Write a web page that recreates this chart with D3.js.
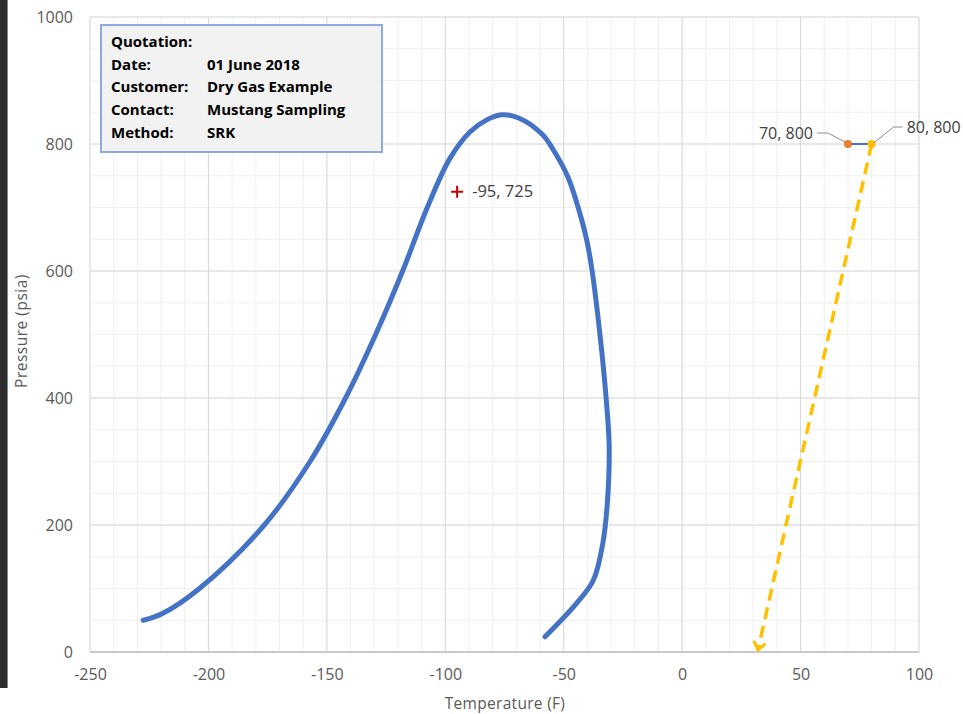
<!DOCTYPE html>
<html><head><meta charset="utf-8">
<script src="https://cdn.jsdelivr.net/npm/d3@7"></script>
<style>
html,body{margin:0;padding:0;background:#fff;}
svg{display:block;}
</style></head>
<body>
<svg id="chart" width="963" height="714"></svg>
<script>
// ---- Data ----
const envelopeT = [-227.5,-219.2,-203.8,-176.4,-157.1,-142.1,-129.4,-118,-107.6,-98.1,-89.6,-82.5,-76.2,-69,-59,-54.4,-48.1,-43.5,-40.3,-38,-34.7,-32.1,-30.8,-31.6,-33.5,-37.5,-44.5,-57.9];
const envelopeP = [50,61,100,200,300,400,500,600,700,777,819,838,846,841,815,791,747,695,649,600,500,400,323,234,171,113,77,24];
const segT = [70, 80];
const segP = [800, 800];
const arrowT = [80, 32];
const arrowP = [800, 3];
const crossPoint = {t: -95, p: 725, label: "-95, 725"};
const pointLabels = ["70, 800", "80, 800"];
const xTicks = [-250,-200,-150,-100,-50,0,50,100];
const yTicks = [0,200,400,600,800,1000];
const infoKeys = ["Quotation:", "Date:", "Customer:", "Contact:", "Method:"];
const infoVals = ["", "01 June 2018", "Dry Gas Example", "Mustang Sampling", "SRK"];
const xTitle = "Temperature (F)";
const yTitle = "Pressure (psia)";

// ---- Layout ----
const svg = d3.select("#chart");
const L = 90, R = 919, T = 17, B = 652;
const x = d3.scaleLinear().domain([-250,100]).range([L,R]);
const y = d3.scaleLinear().domain([0,1000]).range([B,T]);
const font = "'Open Sans', sans-serif";

// dark left strip
svg.append("rect").attr("x",0).attr("y",0).attr("width",7).attr("height",688).attr("fill","#2d2d30");
svg.append("rect").attr("x",7).attr("y",0).attr("width",1).attr("height",688).attr("fill","#8a8a8a");

// minor grid
const g = svg.append("g");
g.selectAll(".mx").data(d3.range(-250,101,10)).join("line")
  .attr("x1",d=>x(d)).attr("x2",d=>x(d)).attr("y1",T).attr("y2",B)
  .attr("stroke","#efefef").attr("stroke-width",1);
g.selectAll(".my").data(d3.range(0,1001,50)).join("line")
  .attr("y1",d=>y(d)).attr("y2",d=>y(d)).attr("x1",L).attr("x2",R)
  .attr("stroke","#efefef").attr("stroke-width",1);
// major grid
g.selectAll(".Mx").data(xTicks).join("line")
  .attr("x1",d=>x(d)).attr("x2",d=>x(d)).attr("y1",T).attr("y2",B)
  .attr("stroke","#d9d9d9").attr("stroke-width",1);
g.selectAll(".My").data(yTicks).join("line")
  .attr("y1",d=>y(d)).attr("y2",d=>y(d)).attr("x1",L).attr("x2",R)
  .attr("stroke","#d9d9d9").attr("stroke-width",1);
// bottom axis line
svg.append("line").attr("x1",L).attr("x2",R).attr("y1",B).attr("y2",B).attr("stroke","#bfbfbf").attr("stroke-width",1.5);

// axes via d3
const fmt = d => String(d);
const xAxis = d3.axisBottom(x).tickValues(xTicks).tickFormat(fmt).tickSize(0).tickPadding(17);
const xg = svg.append("g").attr("transform",`translate(0,${B})`).call(xAxis);
const yAxis = d3.axisLeft(y).tickValues(yTicks).tickFormat(fmt).tickSize(0).tickPadding(17);
const yg = svg.append("g").attr("transform",`translate(${L},0)`).call(yAxis);
[xg,yg].forEach(a=>{
  a.select(".domain").remove();
  a.selectAll("text").attr("font-family",font).attr("font-size",16).attr("fill","#595959");
});

// axis titles
svg.append("text").attr("x",505).attr("y",709).attr("text-anchor","middle")
  .attr("font-family",font).attr("font-size",15.5).attr("fill","#595959").attr("letter-spacing",0.3).text(xTitle);
svg.append("text").attr("transform","translate(27,331) rotate(-90)").attr("text-anchor","middle")
  .attr("font-family",font).attr("font-size",15.5).attr("fill","#595959").attr("letter-spacing",0.5).text(yTitle);

// envelope
const env = envelopeT.map((t,i)=>[t,envelopeP[i]]);
svg.append("path").datum(env)
  .attr("d", d3.line().x(d=>x(d[0])).y(d=>y(d[1])).curve(d3.curveCatmullRom.alpha(0.5)))
  .attr("fill","none").attr("stroke","#4472C4").attr("stroke-width",5).attr("stroke-linecap","round");

// dashed arrow
const arr = arrowT.map((t,i)=>[t,arrowP[i]]);
svg.append("defs").append("marker").attr("id","chev").attr("viewBox","-10 -8 12 16")
  .attr("refX",0).attr("refY",0).attr("markerWidth",12).attr("markerHeight",16)
  .attr("markerUnits","userSpaceOnUse").attr("orient","auto")
  .append("path").attr("d","M-8,-6 L0,0 L-8,6").attr("fill","none").attr("stroke","#FFC000").attr("stroke-width",3);
svg.append("path").datum(arr)
  .attr("d", d3.line().x(d=>x(d[0])).y(d=>y(d[1])))
  .attr("fill","none").attr("stroke","#FFC000").attr("stroke-width",3.5)
  .attr("stroke-dasharray","12,7").attr("marker-end","url(#chev)");

// short segment
const seg = segT.map((t,i)=>[t,segP[i]]);
svg.append("path").datum(seg)
  .attr("d", d3.line().x(d=>x(d[0])).y(d=>y(d[1])))
  .attr("fill","none").attr("stroke","#4472C4").attr("stroke-width",2);
svg.append("circle").attr("cx",x(segT[0])).attr("cy",y(segP[0])).attr("r",4).attr("fill","#ED7D31");
svg.append("circle").attr("cx",x(segT[1])).attr("cy",y(segP[1])).attr("r",4).attr("fill","#FFC000");

// point labels with leaders
svg.append("path").attr("d",`M${x(segT[0])-31},${y(800)-11} L${x(segT[0])-20},${y(800)-11} L${x(segT[0])-3},${y(800)-2}`)
  .attr("fill","none").attr("stroke","#8c8c8c").attr("stroke-width",1);
svg.append("text").attr("x",x(segT[0])-35).attr("y",y(800)-11).attr("dy","0.35em").attr("text-anchor","end")
  .attr("font-family",font).attr("font-size",16).attr("fill","#404040").text(pointLabels[0]);
svg.append("path").attr("d",`M${x(segT[1])+2},${y(800)-1} L${x(segT[1])+22},${y(800)-17} L${x(segT[1])+31},${y(800)-17}`)
  .attr("fill","none").attr("stroke","#8c8c8c").attr("stroke-width",1);
svg.append("text").attr("x",x(segT[1])+35).attr("y",y(800)-17).attr("dy","0.35em").attr("text-anchor","start")
  .attr("font-family",font).attr("font-size",16).attr("fill","#404040").text(pointLabels[1]);

// red cross
const cx = x(crossPoint.t), cy = y(crossPoint.p);
svg.append("path").attr("d",`M${cx-6},${cy} L${cx+6},${cy} M${cx},${cy-6} L${cx},${cy+6}`)
  .attr("stroke","#C00000").attr("stroke-width",2);
svg.append("text").attr("x",cx+15).attr("y",cy).attr("dy","0.35em")
  .attr("font-family",font).attr("font-size",16.5).attr("fill","#404040").text(crossPoint.label);

// info box
svg.append("rect").attr("x",101).attr("y",25).attr("width",281).attr("height",127)
  .attr("fill","#f2f2f2").attr("stroke","#8FAADC").attr("stroke-width",2);
const info = svg.append("g").attr("font-family",font).attr("font-weight","bold")
  .attr("font-size",15).attr("fill","#000");
infoKeys.forEach((k,i)=>{
  info.append("text").attr("x",111).attr("y",42+i*22.6).attr("dy","0.35em").text(k);
  info.append("text").attr("x",207).attr("y",42+i*22.6).attr("dy","0.35em").text(infoVals[i]);
});
</script>
</body></html>
